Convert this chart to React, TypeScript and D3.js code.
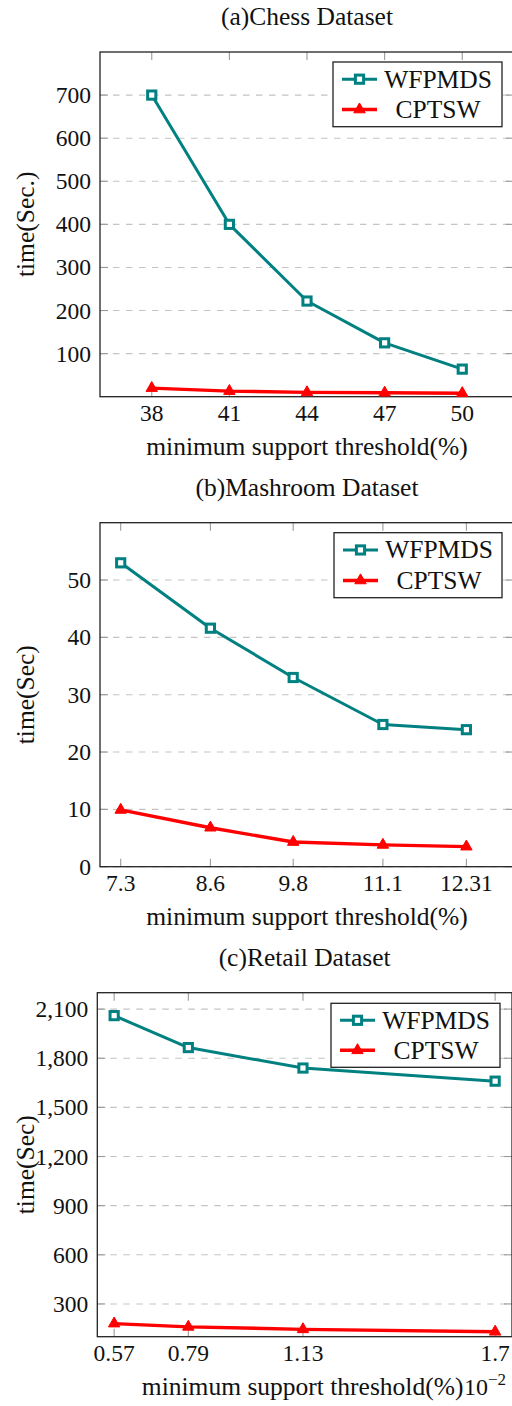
import React from "react";
import * as d3 from "d3";

// ---- data ----
const chessX = [38, 41, 44, 47, 50];
const chessWFPMDS = [700, 400, 222, 125, 64];
const chessCPTSW = [20, 13, 10, 9, 8];
const chessYTicks = [100, 200, 300, 400, 500, 600, 700];

const mushX = [7.3, 8.6, 9.8, 11.1, 12.31];
const mushWFPMDS = [53, 41.6, 33, 24.8, 23.9];
const mushCPTSW = [9.9, 6.8, 4.3, 3.8, 3.5];
const mushYTicks = [0, 10, 20, 30, 40, 50];

const retailX = [0.57, 0.79, 1.13, 1.7];
const retailWFPMDS = [2060, 1865, 1740, 1660];
const retailCPTSW = [180, 160, 145, 130];
const retailYTicks = [300, 600, 900, 1200, 1500, 1800, 2100];

const seriesNames = ["WFPMDS", "CPTSW"];

const TEAL = "#008080";
const RED = "#ff0000";
const FONT = "Liberation Serif, serif";

type PanelProps = {
  title: string;
  ylabel: string;
  xs: number[];
  a: number[];
  b: number[];
  xDomain: [number, number];
  yDomain: [number, number];
  yTicks: number[];
  yFmt: (v: number) => string;
  xFmt: (v: number) => string;
  left: number;
  right: number;
  top: number;
  bottom: number;
  legend: { x0: number; x1: number; y0: number; y1: number };
  xScaleLabel?: boolean;
};

function Square({ x, y }: { x: number; y: number }) {
  const s = 8.2;
  return (
    <rect x={x - s / 2} y={y - s / 2} width={s} height={s} fill="white" stroke={TEAL} strokeWidth={3} />
  );
}

function Triangle({ x, y }: { x: number; y: number }) {
  const r = 6.6;
  const pts = [0, 1, 2].map((i) => {
    const ang = -Math.PI / 2 + (i * 2 * Math.PI) / 3;
    return [x + r * Math.cos(ang), y + r * Math.sin(ang)].join(",");
  });
  return <polygon points={pts.join(" ")} fill={RED} stroke={RED} strokeWidth={1} strokeLinejoin="round" />;
}

function Panel(p: PanelProps) {
  const x = d3.scaleLinear().domain(p.xDomain).range([p.left, p.right]);
  const y = d3.scaleLinear().domain(p.yDomain).range([p.bottom, p.top]);
  const line = d3
    .line<[number, number]>()
    .x((d) => x(d[0]))
    .y((d) => y(d[1]));
  const dA = p.xs.map((v, i) => [v, p.a[i]] as [number, number]);
  const dB = p.xs.map((v, i) => [v, p.b[i]] as [number, number]);
  const cx = (p.left + p.right) / 2;
  const cy = (p.top + p.bottom) / 2;
  const tickLen = 8;
  const lg = p.legend;
  const rowH = (lg.y1 - lg.y0) / 2;
  const textCx = lg.x0 + 105;
  return (
    <g fontFamily={FONT} fill="#111">
      <text x={cx} y={p.top - 27} textAnchor="middle" fontSize={25.5}>
        {p.title}
      </text>
      {/* grid */}
      {p.yTicks.map((t) => (
        <line
          key={"g" + t}
          x1={p.left}
          x2={p.right}
          y1={y(t)}
          y2={y(t)}
          stroke="#c4c4c4"
          strokeWidth={1.1}
          strokeDasharray="6.5,6.5"
        />
      ))}
      {/* ticks */}
      {p.yTicks.map((t) => (
        <g key={"yt" + t}>
          <line x1={p.left} x2={p.left + tickLen} y1={y(t)} y2={y(t)} stroke="#9a9a9a" strokeWidth={1.1} />
          <line x1={p.right} x2={p.right - tickLen} y1={y(t)} y2={y(t)} stroke="#9a9a9a" strokeWidth={1.1} />
          <text x={p.left - 9} y={y(t)} textAnchor="end" dominantBaseline="central" fontSize={23.5}>
            {p.yFmt(t)}
          </text>
        </g>
      ))}
      {p.xs.map((t) => (
        <g key={"xt" + t}>
          <line x1={x(t)} x2={x(t)} y1={p.bottom} y2={p.bottom - tickLen} stroke="#9a9a9a" strokeWidth={1.1} />
          <line x1={x(t)} x2={x(t)} y1={p.top} y2={p.top + tickLen} stroke="#9a9a9a" strokeWidth={1.1} />
          <text x={x(t)} y={p.bottom + 24} textAnchor="middle" fontSize={23.5}>
            {p.xFmt(t)}
          </text>
        </g>
      ))}
      {/* frame */}
      <rect
        x={p.left}
        y={p.top}
        width={p.right - p.left}
        height={p.bottom - p.top}
        fill="none"
        stroke="#222"
        strokeWidth={1.3}
      />
      {/* series */}
      <path d={line(dA) || ""} fill="none" stroke={TEAL} strokeWidth={3} strokeLinejoin="round" />
      <path d={line(dB) || ""} fill="none" stroke={RED} strokeWidth={3.4} strokeLinejoin="round" />
      {dA.map((d, i) => (
        <Square key={"sa" + i} x={x(d[0])} y={y(d[1])} />
      ))}
      {dB.map((d, i) => (
        <Triangle key={"tb" + i} x={x(d[0])} y={y(d[1])} />
      ))}
      {/* axis labels */}
      <text x={p.xScaleLabel ? cx - 2 : cx} y={p.bottom + 58} textAnchor="middle" fontSize={25.5}>
        minimum support threshold(%)
      </text>
      {p.xScaleLabel && (
        <text x={464} y={p.bottom + 58} fontSize={24}>
          10
          <tspan dy={-10} fontSize={17}>
            −2
          </tspan>
        </text>
      )}
      <text
        transform={`translate(34,${cy}) rotate(-90)`}
        textAnchor="middle"
        fontSize={25.5}
      >
        {p.ylabel}
      </text>
      {/* legend */}
      <rect
        x={lg.x0}
        y={lg.y0}
        width={lg.x1 - lg.x0}
        height={lg.y1 - lg.y0}
        fill="white"
        stroke="#222"
        strokeWidth={1.3}
      />
      {seriesNames.map((name, i) => {
        const ry = lg.y0 + rowH * (i + 0.5) + (i === 0 ? 1 : -1);
        const lx0 = lg.x0 + 9;
        const lx1 = lg.x0 + 44;
        return (
          <g key={name}>
            <line x1={lx0} x2={lx1} y1={ry} y2={ry} stroke={i === 0 ? TEAL : RED} strokeWidth={i === 0 ? 3 : 3.4} />
            {i === 0 ? <Square x={(lx0 + lx1) / 2} y={ry} /> : <Triangle x={(lx0 + lx1) / 2} y={ry} />}
            <text x={textCx} y={ry} textAnchor="middle" dominantBaseline="central" fontSize={25.5}>
              {name}
            </text>
          </g>
        );
      })}
    </g>
  );
}

export default function App() {
  const intFmt = (v: number) => String(v);
  const commaFmt = d3.format(",");
  return (
    <svg
      width={512}
      height={1406}
      style={{ position: "absolute", left: 0, top: 0, background: "white" }}
    >
      <rect x={0} y={0} width={512} height={1406} fill="white" />
      <Panel
        title="(a)Chess Dataset"
        ylabel="time(Sec.)"
        xs={chessX}
        a={chessWFPMDS}
        b={chessCPTSW}
        xDomain={[36, 52]}
        yDomain={[0, 800]}
        yTicks={chessYTicks}
        yFmt={intFmt}
        xFmt={intFmt}
        left={100}
        right={514}
        top={52}
        bottom={396.7}
        legend={{ x0: 333, x1: 502, y0: 62, y1: 126.7 }}
      />
      <Panel
        title="(b)Mashroom Dataset"
        ylabel="time(Sec)"
        xs={mushX}
        a={mushWFPMDS}
        b={mushCPTSW}
        xDomain={[7, 13]}
        yDomain={[0, 60]}
        yTicks={mushYTicks}
        yFmt={intFmt}
        xFmt={intFmt}
        left={100}
        right={514}
        top={522.7}
        bottom={866.7}
        legend={{ x0: 334, x1: 502, y0: 532.7, y1: 597.7 }}
      />
      <Panel
        title="(c)Retail Dataset"
        ylabel="time(Sec)"
        xs={retailX}
        a={retailWFPMDS}
        b={retailCPTSW}
        xDomain={[0.52, 1.75]}
        yDomain={[100, 2200]}
        yTicks={retailYTicks}
        yFmt={(v) => commaFmt(v)}
        xFmt={intFmt}
        left={97.3}
        right={512}
        top={992.7}
        bottom={1336.7}
        legend={{ x0: 331, x1: 500, y0: 1003.3, y1: 1067.3 }}
        xScaleLabel
      />
    </svg>
  );
}
